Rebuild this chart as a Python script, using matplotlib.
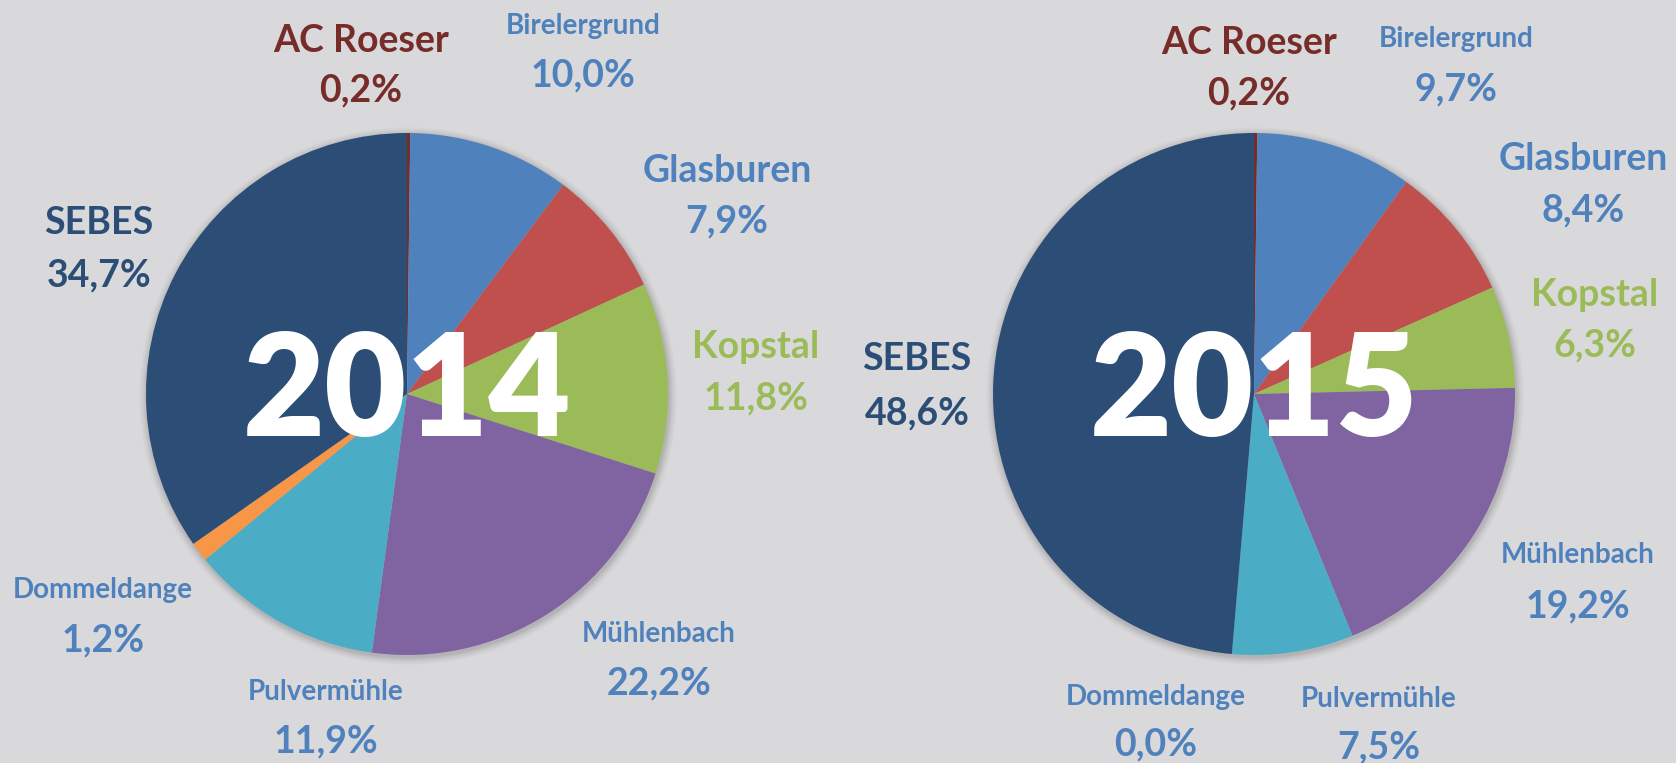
import matplotlib
matplotlib.use('Agg')
import matplotlib.pyplot as plt
from matplotlib.patches import Circle

plt.rcParams['font.family'] = ['Lato', 'DejaVu Sans']

# ---- data ----
categories = ['AC Roeser', 'Birelergrund', 'Glasburen', 'Kopstal',
              'Mühlenbach', 'Pulvermühle', 'Dommeldange', 'SEBES']
values_2014 = [0.2, 10.0, 7.9, 11.8, 22.2, 11.9, 1.2, 34.7]
values_2015 = [0.2, 9.7, 8.4, 6.3, 19.2, 7.5, 0.0, 48.6]
years = ['2014', '2015']

# ---- styles ----
slice_colors = ['#772C2A', '#4F81BD', '#C0504D', '#9BBB59',
                '#8064A2', '#4BACC6', '#F79646', '#2C4D75']
label_colors = ['#772C2A', '#4F81BD', '#4F81BD', '#9BBB59',
                '#4F81BD', '#4F81BD', '#4F81BD', '#2C4D75']
name_sizes = [27, 20, 27, 27, 20, 20, 20, 27]
pct_size = 27
bg = '#D9D9DB'

W, H = 1676, 763
centers = [(407, 394), (1254, 394)]
radius = 261
# label centres (pixel coords from top): (x, name_y, pct_y)
label_pos = [
    [(361, 38, 88), (583, 24, 73), (727, 168, 219), (756, 344, 396),
     (659, 632, 681), (326, 690, 739), (103, 588, 638), (99, 220, 273)],
    [(1249, 40, 91), (1456, 37, 87), (1583, 156, 208), (1595, 292, 343),
     (1578, 553, 604), (1379, 697, 745), (1156, 695, 742), (917, 357, 411)],
]

fig = plt.figure(figsize=(W / 100, H / 100), dpi=100, facecolor=bg)
ax = fig.add_axes([0, 0, 1, 1])
ax.set_xlim(0, W)
ax.set_ylim(0, H)
ax.set_facecolor(bg)
ax.axis('off')

for i, vals in enumerate([values_2014, values_2015]):
    cx, cy = centers[i]
    cy = H - cy
    # soft shadow
    for k, a in zip(range(8, 0, -1), [0.02, 0.025, 0.03, 0.035, 0.04, 0.05, 0.06, 0.07]):
        ax.add_patch(Circle((cx + 1, cy - 2), radius + k, color='#606060',
                            alpha=a, lw=0, zorder=1))
    ax.pie(vals, colors=slice_colors, startangle=90, counterclock=False,
           center=(cx, cy), radius=radius,
           wedgeprops=dict(linewidth=0, zorder=2), frame=True)
    ax.text(cx, cy, years[i], color='white', fontsize=102, fontweight='heavy',
            ha='center', va='center', zorder=5)
    for j, name in enumerate(categories):
        x, ny, py = label_pos[i][j]
        cap_n = name_sizes[j] * 100 / 72 * 0.72
        cap_p = pct_size * 100 / 72 * 0.72
        ax.text(x, H - ny - cap_n / 2, name, color=label_colors[j],
                fontsize=name_sizes[j], fontweight='bold',
                ha='center', va='baseline', zorder=6)
        pct = f"{vals[j]:.1f}%".replace('.', ',')
        ax.text(x, H - py - cap_p / 2, pct, color=label_colors[j],
                fontsize=pct_size, fontweight='bold',
                ha='center', va='baseline', zorder=6)

ax.set_xlim(0, W)
ax.set_ylim(0, H)
ax.set_aspect('auto')
ax.axis('off')
fig.savefig('out.png', dpi=100, facecolor=bg)
